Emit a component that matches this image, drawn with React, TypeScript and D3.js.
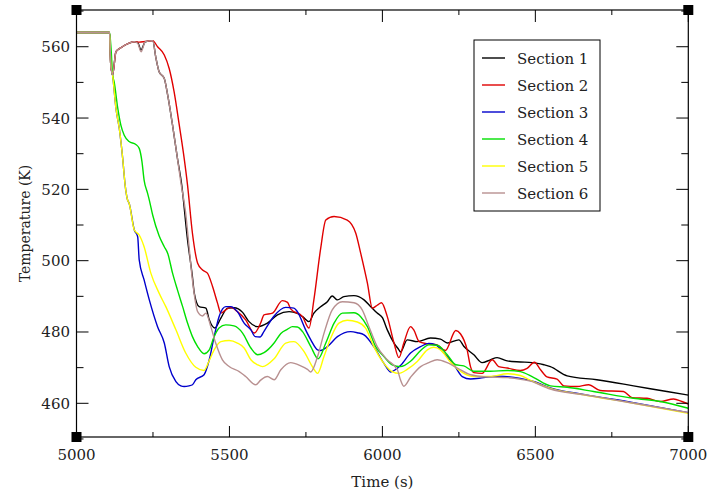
import React from "react";
import * as d3 from "d3";

type Pt = [number, number];

const seriesNames = ["Section 1", "Section 2", "Section 3", "Section 4", "Section 5", "Section 6"];
const seriesColors = ["#000000", "#e00000", "#0000cc", "#00e000", "#ffff00", "#b89090"];

const xTicksMajor = [5000, 5500, 6000, 6500, 7000];
const xTicksMinor = [5250, 5750, 6250, 6750];
const yTicksMajor = [460, 480, 500, 520, 540, 560];
const yTicksMinor = [450, 470, 490, 510, 530, 550, 570];

const section1: Pt[] = [
  [5000, 564], [5108, 564], [5112, 555], [5118, 552.1], [5129, 558.6], [5145, 559.7], [5172, 561], [5189, 561.4],
  [5200, 561.2], [5211, 559.1], [5225, 561.4], [5249, 561.7], [5260, 556.7], [5270, 553], [5287, 551.1], [5298, 546.5],
  [5314, 538], [5330, 528.7], [5344, 521.2], [5363, 505.8], [5379, 495.5], [5385, 490.9], [5401, 487.1], [5423, 486.7],
  [5434, 483.4], [5452, 481.1], [5472, 483.9], [5494, 486.7], [5515, 486.8], [5543, 485.5], [5564, 482.9], [5592, 481.5],
  [5624, 482.5], [5657, 484.8], [5695, 485.7], [5722, 485.2], [5739, 484.3], [5760, 482.9], [5776, 485.3], [5798, 487.1],
  [5820, 488.5], [5836, 490.1], [5853, 489], [5874, 489.9], [5907, 490.2], [5940, 489], [5962, 487.1], [5983, 485.3],
  [6000, 484], [6016, 480.6], [6038, 476.9], [6054, 475], [6059, 474.4], [6081, 477.8], [6114, 477.3], [6157, 478.3],
  [6190, 478], [6212, 476.9], [6250, 477.8], [6266, 476], [6299, 473.6], [6326, 471.4], [6353, 472.2], [6375, 472.8],
  [6408, 471.9], [6451, 471.6], [6489, 471.4], [6506, 471.2], [6528, 470.8], [6549, 470.3], [6604, 467.7], [6701, 466.6],
  [6821, 464.9], [6930, 463.3], [7000, 462.3],
];

const section2: Pt[] = [
  [5000, 564], [5108, 564], [5112, 555], [5118, 552.1], [5129, 558.6], [5145, 559.7], [5172, 561], [5189, 561.4],
  [5205, 561.3], [5225, 561.5], [5249, 561.7], [5265, 560], [5287, 557.7], [5303, 553.9], [5319, 547.4], [5336, 538],
  [5352, 528.7], [5363, 521.2], [5379, 507.7], [5396, 499.3], [5412, 497.4], [5428, 496.5], [5445, 492.7], [5461, 488.1],
  [5472, 485.3], [5488, 486.2], [5504, 486.9], [5526, 485.7], [5553, 483.4], [5581, 479.7], [5602, 482.5], [5613, 484.8],
  [5641, 485.3], [5673, 488.8], [5690, 488.3], [5700, 486.5], [5739, 484.3], [5760, 481.1], [5776, 489], [5798, 503.3],
  [5815, 511.4], [5842, 512.4], [5885, 511.4], [5913, 507.7], [5929, 502.1], [5951, 493.7], [5967, 486.7], [5983, 487.5],
  [5997, 488.2], [6016, 484.3], [6038, 476.9], [6054, 472.8], [6070, 476.9], [6092, 481.5], [6103, 480.5], [6120, 477.3],
  [6147, 476.7], [6179, 476.4], [6206, 474.8], [6240, 480.4], [6255, 479.5], [6277, 475], [6288, 470.3], [6299, 468.6],
  [6326, 468.4], [6359, 472.2], [6380, 470.3], [6408, 469.9], [6451, 469.2], [6473, 469.8], [6497, 471.5], [6517, 469.4],
  [6538, 467.4], [6571, 466.8], [6593, 464.9], [6636, 464.7], [6674, 465.2], [6712, 463.6], [6788, 463.3], [6816, 461.6],
  [6865, 461.4], [6908, 460.5], [6952, 461.2], [6979, 460.5], [7000, 459.8],
];

const section3: Pt[] = [
  [5000, 564], [5108, 564], [5112, 555], [5118, 552], [5129, 542.7], [5140, 537], [5151, 528.7], [5159, 521.2],
  [5167, 517], [5172, 516.1], [5189, 508.6], [5200, 506.7], [5205, 500.2], [5221, 494.6], [5238, 489], [5265, 481.5],
  [5287, 476.9], [5303, 470.3], [5325, 466.1], [5341, 464.9], [5352, 464.7], [5368, 464.9], [5379, 465.2], [5390, 466.6],
  [5417, 468], [5434, 472.2], [5450, 478.7], [5466, 484.3], [5488, 487.1], [5504, 487.1], [5526, 485.7], [5548, 482.5],
  [5570, 480.6], [5584, 478.7], [5600, 478.6], [5613, 480.2], [5646, 484.5], [5684, 486.9], [5711, 486.7], [5722, 485.7],
  [5749, 480.6], [5766, 477.8], [5788, 475], [5798, 474.8], [5820, 475.9], [5853, 478.7], [5896, 480.1], [5918, 479.8],
  [5940, 479.2], [5972, 475.9], [6005, 471.2], [6027, 468.8], [6045, 469.6], [6059, 470.6], [6092, 474.1], [6125, 475.9],
  [6152, 476.8], [6174, 476.4], [6201, 474.1], [6234, 470.8], [6261, 467.5], [6288, 466.8], [6331, 467.2], [6380, 467.6],
  [6451, 467], [6500, 466], [6549, 464.3], [6658, 462.5], [6821, 460.2], [7000, 457.4],
];

const section4: Pt[] = [
  [5000, 564], [5108, 564], [5113, 559.5], [5118, 552.1], [5123, 550.2], [5135, 542.7], [5145, 538], [5156, 535.2],
  [5172, 533.4], [5194, 532.6], [5205, 531.5], [5214, 527.8], [5221, 522.6], [5232, 519], [5238, 517], [5249, 512.8],
  [5270, 507], [5287, 503.9], [5298, 502.1], [5314, 496.5], [5330, 491.8], [5347, 487.1], [5363, 482.5], [5379, 478.7],
  [5396, 475.9], [5417, 473.9], [5434, 475], [5450, 478.7], [5466, 481.1], [5488, 482], [5515, 481.7], [5543, 479.7],
  [5570, 475.5], [5592, 473.6], [5613, 474.2], [5646, 476.9], [5668, 479.6], [5690, 480.8], [5706, 481.5], [5722, 481.4],
  [5739, 480.1], [5766, 475.9], [5790, 472.5], [5815, 476.9], [5842, 482.5], [5869, 485.3], [5907, 485.4], [5929, 484.3],
  [5951, 481.5], [5978, 475.9], [6005, 473.1], [6032, 470.8], [6059, 470.3], [6092, 471.8], [6125, 474.8], [6152, 476.4],
  [6179, 476.3], [6212, 473.6], [6240, 470.8], [6266, 470.5], [6299, 469], [6353, 469], [6408, 469.2], [6451, 468.9],
  [6495, 467.2], [6549, 464.9], [6604, 464.5], [6690, 463.3], [6821, 461.4], [6908, 460.5], [7000, 458.6],
];

const section5: Pt[] = [
  [5000, 564], [5108, 564], [5112, 555], [5118, 552], [5129, 542.7], [5140, 537], [5151, 528.7], [5159, 521.2],
  [5167, 517], [5172, 516.1], [5189, 508.6], [5205, 507.2], [5221, 503.9], [5243, 496.5], [5270, 490.9], [5292, 487.1],
  [5325, 480.6], [5357, 474.1], [5390, 470.1], [5417, 469.2], [5434, 472], [5450, 475], [5472, 477.3], [5499, 477.6],
  [5526, 476.9], [5548, 475.5], [5570, 472.2], [5592, 470.8], [5608, 470.3], [5646, 472.5], [5684, 476.9], [5711, 477.3],
  [5744, 474.5], [5771, 470.3], [5788, 468.4], [5809, 473.1], [5831, 478.3], [5858, 482.5], [5885, 483.3], [5918, 482.8],
  [5945, 481.1], [5972, 475.9], [6005, 471.2], [6032, 468.9], [6054, 468.4], [6081, 469.5], [6114, 471.7], [6147, 475],
  [6168, 475.7], [6190, 475], [6223, 471.5], [6266, 468.4], [6299, 467.5], [6353, 467.5], [6408, 468.3], [6451, 467.8],
  [6484, 466.4], [6549, 464.2], [6658, 462.4], [6821, 460], [7000, 457.2],
];

const section6: Pt[] = [
  [5000, 564], [5108, 564], [5112, 555], [5118, 552.1], [5129, 558.6], [5145, 559.7], [5172, 561], [5189, 561.4],
  [5200, 561], [5211, 558.6], [5225, 561.4], [5249, 561.7], [5260, 556.7], [5270, 553], [5287, 551.1], [5298, 546.5],
  [5314, 538], [5330, 528.7], [5341, 522], [5357, 513.3], [5368, 503.9], [5379, 494.6], [5396, 485.7], [5412, 484.5],
  [5423, 485.3], [5439, 481.5], [5455, 476.9], [5477, 472.2], [5499, 470.3], [5532, 468.9], [5553, 467.5], [5586, 465.2],
  [5602, 466.5], [5624, 467.5], [5646, 466.6], [5668, 469.4], [5700, 471.4], [5733, 470.5], [5755, 469.5], [5766, 468.8],
  [5788, 473.1], [5809, 479.6], [5836, 486.2], [5869, 488.5], [5907, 488.2], [5934, 486.2], [5956, 481.5], [5983, 475.9],
  [6016, 472.2], [6049, 469.4], [6059, 466.6], [6070, 464.8], [6092, 467.3], [6125, 470.3], [6152, 471.4], [6179, 472.2],
  [6212, 471.4], [6245, 469.9], [6288, 468], [6343, 467.4], [6408, 467.2], [6484, 466.2], [6549, 464], [6658, 462.4],
  [6821, 460], [7000, 457.4],
];

const allSeries = [section1, section2, section3, section4, section5, section6];

const FONT = "'DejaVu Serif', serif";

export default function App() {
  const W = 721;
  const H = 499;
  const x = d3.scaleLinear().domain([5000, 7000]).range([76.5, 688.3]);
  const y = d3.scaleLinear().domain([450.55, 570.3]).range([437, 10]);
  const x0 = x.range()[0];
  const x1 = x.range()[1];
  const y0 = y.range()[0];
  const y1 = y.range()[1];

  const line = d3
    .line<Pt>()
    .x((d) => x(d[0]))
    .y((d) => y(d[1]))
    .curve(d3.curveMonotoneX);

  const legendX = 474;
  const legendY = 40;
  const legendW = 126;
  const legendH = 171;
  const rowH = 27;

  return (
    <svg
      width={W}
      height={H}
      style={{ position: "absolute", left: 0, top: 0, background: "#fff" }}
      fontFamily={FONT}
    >
      <rect x={0} y={0} width={W} height={H} fill="#fff" />
      <defs>
        <clipPath id="plotclip">
          <rect x={x0} y={y1} width={x1 - x0} height={y0 - y1} />
        </clipPath>
      </defs>

      {/* data lines */}
      <g clipPath="url(#plotclip)">
        {allSeries.map((s, i) => (
          <path key={i} d={line(s) || ""} fill="none" stroke={seriesColors[i]} strokeWidth={1.4} strokeLinejoin="round" />
        ))}
      </g>

      {/* frame */}
      <rect x={x0} y={y1} width={x1 - x0} height={y0 - y1} fill="none" stroke="#000" strokeWidth={1.2} />

      {/* x ticks */}
      {xTicksMajor.map((t) => (
        <g key={"xM" + t}>
          <line x1={x(t)} x2={x(t)} y1={y0} y2={y0 - 11} stroke="#000" strokeWidth={1} />
          <line x1={x(t)} x2={x(t)} y1={y1} y2={y1 + 12} stroke="#000" strokeWidth={1} />
          <text x={x(t)} y={y0 + 23} textAnchor="middle" fontSize={15} fill="#222">
            {t}
          </text>
        </g>
      ))}
      {xTicksMinor.map((t) => (
        <g key={"xm" + t}>
          <line x1={x(t)} x2={x(t)} y1={y0} y2={y0 - 5} stroke="#000" strokeWidth={1} />
          <line x1={x(t)} x2={x(t)} y1={y1} y2={y1 + 5} stroke="#000" strokeWidth={1} />
        </g>
      ))}

      {/* y ticks */}
      {yTicksMajor.map((t) => (
        <g key={"yM" + t}>
          <line x1={x0} x2={x0 + 12} y1={y(t)} y2={y(t)} stroke="#000" strokeWidth={1} />
          <line x1={x1} x2={x1 - 12} y1={y(t)} y2={y(t)} stroke="#000" strokeWidth={1} />
          <text x={70} y={y(t) + 5.5} textAnchor="end" fontSize={15} fill="#222">
            {t}
          </text>
        </g>
      ))}
      {yTicksMinor.map((t) => (
        <g key={"ym" + t}>
          <line x1={x0} x2={x0 + 7} y1={y(t)} y2={y(t)} stroke="#000" strokeWidth={1} />
          <line x1={x1} x2={x1 - 7} y1={y(t)} y2={y(t)} stroke="#000" strokeWidth={1} />
        </g>
      ))}

      {/* corner squares */}
      {[
        [x0, y1],
        [x1, y1],
        [x0, y0],
        [x1, y0],
      ].map(([cx, cy], i) => (
        <rect key={"c" + i} x={cx - 5} y={cy - 5} width={10} height={10} fill="#000" />
      ))}

      {/* axis titles */}
      <text x={(x0 + x1) / 2} y={487} textAnchor="middle" fontSize={15} fill="#222">
        Time (s)
      </text>
      <text
        transform={`translate(30, ${(y0 + y1) / 2}) rotate(-90)`}
        textAnchor="middle"
        fontSize={14}
        fill="#222"
      >
        Temperature (K)
      </text>

      {/* legend */}
      <rect x={legendX} y={legendY} width={legendW} height={legendH} fill="#fff" stroke="#000" strokeWidth={1} />
      {seriesNames.map((n, i) => {
        const cy = legendY + 18 + i * rowH;
        return (
          <g key={n}>
            <line x1={legendX + 8} x2={legendX + 31} y1={cy} y2={cy} stroke={seriesColors[i]} strokeWidth={1.4} />
            <text x={legendX + 43} y={cy + 5.5} fontSize={15} fill="#222">
              {n}
            </text>
          </g>
        );
      })}
    </svg>
  );
}
